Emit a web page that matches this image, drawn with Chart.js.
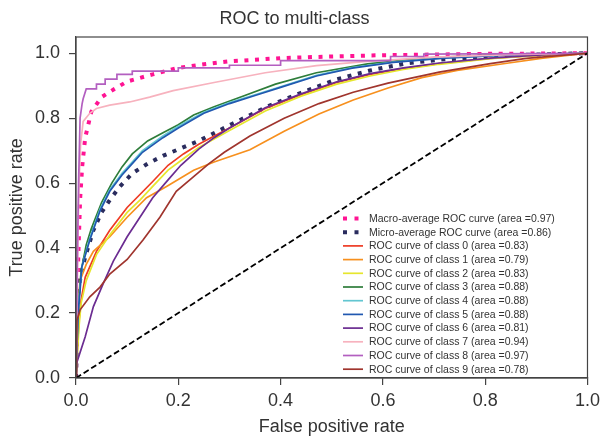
<!DOCTYPE html>
<html>
<head>
<meta charset="utf-8">
<script src="https://cdn.jsdelivr.net/npm/chart.js@4/dist/chart.umd.min.js"></script>
<style>
  html, body { margin: 0; padding: 0; background: #fff; }
  #wrap { width: 605px; height: 438px; }
</style>
</head>
<body>
<div id="wrap"><canvas id="roc"></canvas></div>
<script>
// ROC curves, as [fpr, tpr] pairs
const macroAvg = [[0,0],[0.003,0.3],[0.008,0.55],[0.012,0.65],[0.018,0.74],[0.03,0.82],[0.05,0.865],[0.075,0.89],[0.1,0.913],[0.15,0.935],[0.2,0.955],[0.25,0.966],[0.3,0.975],[0.4,0.985],[0.5,0.99],[0.6,0.994],[0.8,0.998],[1,1]];
const microAvg = [[0,0],[0.002,0.15],[0.0045,0.27],[0.01,0.32],[0.018,0.373],[0.034,0.455],[0.05,0.51],[0.066,0.548],[0.086,0.59],[0.11,0.63],[0.14,0.66],[0.171,0.685],[0.24,0.73],[0.306,0.783],[0.373,0.835],[0.44,0.878],[0.51,0.92],[0.575,0.947],[0.643,0.968],[0.71,0.98],[0.85,0.994],[1,1]];
const class0 = [[0,0],[0.003,0.1],[0.006,0.18],[0.01,0.24],[0.018,0.31],[0.04,0.39],[0.066,0.455],[0.1,0.525],[0.125,0.565],[0.15,0.605],[0.18,0.655],[0.21,0.69],[0.24,0.72],[0.3,0.77],[0.37,0.83],[0.44,0.872],[0.51,0.91],[0.575,0.935],[0.64,0.953],[0.71,0.968],[0.81,0.984],[0.91,0.994],[1,1]];
const class1 = [[0,0],[0.002,0.12],[0.004,0.22],[0.008,0.3],[0.02,0.35],[0.034,0.39],[0.066,0.435],[0.1,0.495],[0.138,0.555],[0.177,0.59],[0.23,0.64],[0.27,0.665],[0.34,0.703],[0.407,0.76],[0.475,0.813],[0.542,0.856],[0.61,0.893],[0.676,0.925],[0.745,0.947],[0.846,0.97],[0.913,0.985],[1,1]];
const class2 = [[0,0],[0.003,0.08],[0.006,0.16],[0.01,0.23],[0.02,0.3],[0.04,0.38],[0.066,0.44],[0.1,0.51],[0.125,0.548],[0.15,0.59],[0.18,0.64],[0.21,0.675],[0.24,0.71],[0.3,0.762],[0.37,0.822],[0.44,0.868],[0.51,0.905],[0.575,0.93],[0.64,0.95],[0.71,0.966],[0.81,0.983],[0.91,0.994],[1,1]];
const class3 = [[0,0],[0.003,0.15],[0.006,0.25],[0.01,0.33],[0.02,0.41],[0.03,0.46],[0.05,0.54],[0.07,0.6],[0.09,0.65],[0.11,0.69],[0.14,0.73],[0.17,0.755],[0.2,0.78],[0.23,0.81],[0.27,0.835],[0.33,0.87],[0.39,0.905],[0.47,0.94],[0.57,0.967],[0.68,0.985],[0.8,0.994],[1,1]];
const class4 = [[0,0],[0.004,0.21],[0.008,0.28],[0.012,0.345],[0.027,0.43],[0.047,0.52],[0.066,0.58],[0.09,0.63],[0.11,0.665],[0.13,0.7],[0.17,0.745],[0.2,0.775],[0.25,0.818],[0.3,0.848],[0.35,0.872],[0.4,0.897],[0.47,0.932],[0.54,0.956],[0.62,0.973],[0.72,0.986],[0.85,0.995],[1,1]];
const class5 = [[0,0],[0.004,0.2],[0.008,0.27],[0.011,0.34],[0.027,0.425],[0.047,0.515],[0.066,0.575],[0.09,0.625],[0.11,0.66],[0.13,0.695],[0.17,0.74],[0.2,0.77],[0.25,0.815],[0.3,0.845],[0.35,0.87],[0.4,0.895],[0.47,0.93],[0.54,0.954],[0.62,0.972],[0.72,0.985],[0.85,0.995],[1,1]];
const class6 = [[0,0],[0.001,0.045],[0.018,0.127],[0.034,0.22],[0.053,0.29],[0.073,0.36],[0.1,0.435],[0.125,0.495],[0.15,0.555],[0.18,0.61],[0.205,0.655],[0.24,0.705],[0.27,0.74],[0.3,0.77],[0.37,0.832],[0.44,0.875],[0.51,0.912],[0.575,0.937],[0.64,0.955],[0.71,0.97],[0.81,0.985],[0.91,0.995],[1,1]];
const class7 = [[0,0],[0.002,0.2],[0.004,0.45],[0.006,0.6],[0.009,0.72],[0.014,0.79],[0.027,0.815],[0.04,0.83],[0.066,0.84],[0.105,0.85],[0.144,0.865],[0.19,0.885],[0.27,0.91],[0.37,0.94],[0.47,0.962],[0.57,0.975],[0.7,0.988],[0.85,0.996],[1,1]];
const class8 = [[0,0],[0.002,0.3],[0.005,0.6],[0.008,0.8],[0.012,0.845],[0.014,0.86],[0.02,0.89],[0.04,0.89],[0.04,0.905],[0.057,0.905],[0.057,0.92],[0.08,0.92],[0.08,0.935],[0.11,0.935],[0.11,0.945],[0.2,0.945],[0.2,0.955],[0.3,0.955],[0.3,0.963],[0.4,0.963],[0.4,0.977],[0.615,0.977],[0.615,0.99],[0.68,0.99],[0.68,0.997],[1,1]];
const class9 = [[0,0],[0.001,0.1],[0.002,0.178],[0.008,0.21],[0.027,0.25],[0.047,0.28],[0.066,0.32],[0.1,0.365],[0.131,0.425],[0.164,0.495],[0.196,0.575],[0.23,0.62],[0.26,0.66],[0.29,0.695],[0.34,0.745],[0.407,0.8],[0.475,0.845],[0.542,0.88],[0.61,0.908],[0.71,0.942],[0.81,0.968],[0.88,0.984],[1,1]];
const chanceLine = [[0,0],[1,1]];

const curveLabels = [
    'Macro-average ROC curve (area =0.97)',
    'Micro-average ROC curve (area =0.86)',
    'ROC curve of class 0 (area =0.83)',
    'ROC curve of class 1 (area =0.79)',
    'ROC curve of class 2 (area =0.83)',
    'ROC curve of class 3 (area =0.88)',
    'ROC curve of class 4 (area =0.88)',
    'ROC curve of class 5 (area =0.88)',
    'ROC curve of class 6 (area =0.81)',
    'ROC curve of class 7 (area =0.94)',
    'ROC curve of class 8 (area =0.97)',
    'ROC curve of class 9 (area =0.78)'
];
const curveColors = ['#ff1493', '#2a2c5e', '#ee3b24', '#f7901e', '#e6e62e', '#2e7d3a',
                     '#63c6d1', '#2158b0', '#6b2c91', '#f7b2be', '#b35fc0', '#a0352e'];
const xTicks = [0, 0.2, 0.4, 0.6, 0.8, 1.0];
const yTicks = [0, 0.2, 0.4, 0.6, 0.8, 1.0];

const FONT = "'Liberation Sans', Arial, Helvetica, sans-serif";
const TEXT = '#333';

const curves = [macroAvg, microAvg, class0, class1, class2, class3, class4, class5, class6, class7, class8, class9];

const datasets = curves.map((pts, i) => {
    const dotted = i < 2;
    return {
        label: curveLabels[i],
        data: pts.map(p => ({ x: p[0], y: p[1] })),
        borderColor: curveColors[i],
        borderWidth: dotted ? 4 : 1.7,
        borderDash: dotted ? [4, 6.6] : [],
        borderCapStyle: 'butt',
        pointRadius: 0,
        tension: 0,
        fill: false,
        order: -i   // later curves drawn on top, like matplotlib
    };
});
datasets.push({
    label: 'chance',
    data: chanceLine.map(p => ({ x: p[0], y: p[1] })),
    borderColor: '#000',
    borderWidth: 1.8,
    borderDash: [6, 3],
    pointRadius: 0,
    order: -100
});

// box around the plot area
const frame = {
    id: 'frame',
    afterDraw(chart) {
        const a = chart.chartArea, ctx = chart.ctx;
        ctx.save();
        ctx.strokeStyle = '#444';
        ctx.lineWidth = 1.2;
        ctx.strokeRect(a.left, a.top, a.right - a.left, a.bottom - a.top);
        ctx.restore();
    }
};

// legend in the lower right, matplotlib style, no box
const cornerLegend = {
    id: 'cornerLegend',
    afterDraw(chart) {
        const ctx = chart.ctx;
        const x0 = 343, lineLen = 20, textX = 369, y0 = 218.5, rowH = 13.7;
        ctx.save();
        ctx.font = '10.5px ' + FONT;
        ctx.textBaseline = 'middle';
        for (let i = 0; i < curveLabels.length; i++) {
            const y = y0 + i * rowH;
            ctx.strokeStyle = curveColors[i];
            if (i < 2) {
                ctx.lineWidth = 4;
                ctx.setLineDash([4, 7.5]);
            } else {
                ctx.lineWidth = 1.7;
                ctx.setLineDash([]);
            }
            ctx.beginPath();
            ctx.moveTo(x0, y);
            ctx.lineTo(x0 + lineLen, y);
            ctx.stroke();
            ctx.fillStyle = TEXT;
            ctx.fillText(curveLabels[i], textX, y + 0.5);
        }
        ctx.restore();
    }
};

new Chart(document.getElementById('roc'), {
    type: 'line',
    data: { datasets: datasets },
    options: {
        responsive: true,
        maintainAspectRatio: false,
        animation: false,
        layout: { padding: { left: 0, right: 16, top: 0, bottom: 0 } },
        plugins: {
            legend: { display: false },
            tooltip: { enabled: false },
            title: {
                display: true,
                text: 'ROC to multi-class',
                color: TEXT,
                font: { family: FONT, size: 18, weight: 'normal' },
                padding: { top: 8, bottom: 7.4 }
            }
        },
        scales: {
            x: {
                type: 'linear',
                min: 0,
                max: 1,
                afterBuildTicks: s => { s.ticks = xTicks.map(v => ({ value: v })); },
                afterFit: s => { s.height = 60; },
                ticks: {
                    color: TEXT,
                    padding: 5,
                    maxRotation: 0,
                    font: { family: FONT, size: 18 },
                    callback: v => Number(v).toFixed(1)
                },
                grid: { drawOnChartArea: false, drawTicks: true, tickLength: 7, color: '#444', lineWidth: 1.2 },
                border: { display: true, color: '#444', width: 1.2 },
                title: {
                    display: true,
                    text: 'False positive rate',
                    color: TEXT,
                    font: { family: FONT, size: 18 },
                    padding: { top: 0, bottom: 0 }
                }
            },
            y: {
                type: 'linear',
                min: 0,
                max: 1.05,
                afterBuildTicks: s => { s.ticks = yTicks.map(v => ({ value: v })); },
                afterFit: s => { s.width = 76; },
                ticks: {
                    color: TEXT,
                    padding: 9,
                    font: { family: FONT, size: 18 },
                    callback: v => Number(v).toFixed(1)
                },
                grid: { drawOnChartArea: false, drawTicks: true, tickLength: 7, color: '#444', lineWidth: 1.2 },
                border: { display: true, color: '#444', width: 1.2 },
                title: {
                    display: true,
                    text: 'True positive rate',
                    color: TEXT,
                    font: { family: FONT, size: 18 },
                    padding: { top: 6, bottom: 0 }
                }
            }
        }
    },
    plugins: [frame, cornerLegend]
});
</script>
</body>
</html>
